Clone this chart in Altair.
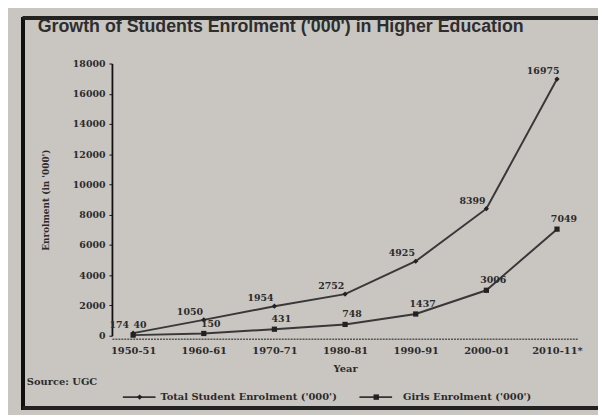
import altair as alt
import pandas as pd

years = ["1950-51", "1960-61", "1970-71", "1980-81", "1990-91", "2000-01", "2010-11*"]
total = [174, 1050, 1954, 2752, 4925, 8399, 16975]
girls = [40, 150, 431, 748, 1437, 3006, 7049]
series_names = ["Total Student Enrolment ('000')", "Girls Enrolment ('000')"]
y_ticks = [0, 2000, 4000, 6000, 8000, 10000, 12000, 14000, 16000, 18000]

rows = []
for y, t, g in zip(years, total, girls):
    rows.append({"Year": y, "Series": series_names[0], "Value": t})
    rows.append({"Year": y, "Series": series_names[1], "Value": g})
df = pd.DataFrame(rows)
df_total = df[df["Series"] == series_names[0]]
df_girls = df[df["Series"] == series_names[1]]

INK = "#2b2b2b"
SERIF = "DejaVu Serif"

x_enc = alt.X("Year:N", sort=years,
              scale=alt.Scale(type="point", padding=0.3),
              axis=alt.Axis(title="Year", labelAngle=0, labelFont=SERIF, labelFontSize=10,
                            labelFontWeight="bold", labelColor=INK, titleFont=SERIF,
                            titleFontSize=10, titleFontWeight="bold", titleColor=INK,
                            titlePadding=8, labelPadding=7, domainColor="#555555",
                            domainDash=[2, 1], domainWidth=1.5, ticks=False, offset=3))
y_enc = alt.Y("Value:Q", scale=alt.Scale(domain=[0, 18000], nice=False),
              axis=alt.Axis(title="Enrolment (in '000')", values=y_ticks, grid=False, format="d",
                            labelFont=SERIF, labelFontSize=9.5, labelFontWeight="bold",
                            labelColor=INK, titleFont=SERIF, titleFontSize=9,
                            titleFontWeight="bold", titleColor=INK, titlePadding=22,
                            domainColor="#111111", domainWidth=1.8, tickColor="#111111",
                            tickSize=3, labelPadding=4))

lines = alt.Chart(df).mark_line(color="#383838", strokeWidth=2).encode(
    x=x_enc, y=y_enc, detail="Series:N")
points = alt.Chart(df).mark_point(filled=True, color="#222222", size=28, opacity=1).encode(
    x=x_enc, y=y_enc,
    shape=alt.Shape("Series:N", sort=series_names,
                    scale=alt.Scale(domain=series_names, range=["diamond", "square"]),
                    legend=None))
labels_total = alt.Chart(df_total).mark_text(font=SERIF, fontSize=9.5, fontWeight="bold",
                                             color=INK, dx=-14, dy=-8).encode(
    x=x_enc, y=y_enc, text="Value:Q")
labels_girls = alt.Chart(df_girls).mark_text(font=SERIF, fontSize=9.5, fontWeight="bold",
                                             color=INK, dx=7, dy=-10).encode(
    x=x_enc, y=y_enc, text="Value:Q")

# decorative frame (photo border)
frame_left = alt.Chart(df).mark_rule(color="#111111", strokeWidth=3).encode(
    x=alt.value(-90), y=alt.value(-47), y2=alt.value(350))
frame_top = alt.Chart(df).mark_rule(color="#222222", strokeWidth=2.5).encode(
    x=alt.value(-90), x2=alt.value(499), y=alt.value(-46))
frame_bottom = alt.Chart(df).mark_rule(color="#222222", strokeWidth=3).encode(
    x=alt.value(-90), x2=alt.value(499), y=alt.value(348))

title_df = pd.DataFrame({"t": ["Growth of Students Enrolment ('000') in Higher Education"]})
title = alt.Chart(title_df).mark_text(font="Liberation Sans", fontSize=18, fontWeight="bold",
                                      color="#2e2e2e", align="left", baseline="alphabetic").encode(
    x=alt.value(-75), y=alt.value(-32), text="t:N")

source_df = pd.DataFrame({"t": ["Source: UGC"]})
source = alt.Chart(source_df).mark_text(font=SERIF, fontSize=10, fontWeight="bold",
                                        color=INK, align="left").encode(
    x=alt.value(-86), y=alt.value(322), text="t:N")

# manual legend
leg_items = []
sym_x = [11, 250]
txt_x = [49, 294]
for i, name in enumerate(series_names):
    d = pd.DataFrame({"t": [name]})
    leg_items.append(alt.Chart(d).mark_rule(color="#333333", strokeWidth=1.8).encode(
        x=alt.value(sym_x[i]), x2=alt.value(sym_x[i] + 33), y=alt.value(337)))
    leg_items.append(alt.Chart(d).mark_point(filled=True, color="#222222", size=30, opacity=1,
                                             shape=["diamond", "square"][i]).encode(
        x=alt.value(sym_x[i] + 17), y=alt.value(337)))
    leg_items.append(alt.Chart(d).mark_text(font=SERIF, fontSize=10, fontWeight="bold",
                                            color=INK, align="left").encode(
        x=alt.value(txt_x[i]), y=alt.value(337), text="t:N"))

chart = alt.layer(lines, points, labels_total, labels_girls, frame_left, frame_top,
                  frame_bottom, title, source, *leg_items).properties(
    width=471, height=275,
    autosize=alt.AutoSizeParams(type="none"),
    padding={"left": 105, "top": 54, "right": 20, "bottom": 78},
    background="#c9c6c1",
).configure_view(stroke=None)

chart.save("out.html", embed_options={"renderer": "svg", "actions": False})
